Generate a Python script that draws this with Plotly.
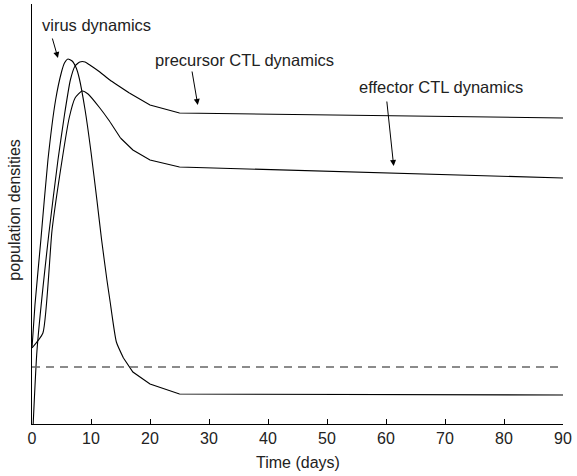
import plotly.graph_objects as go

# Data (time in days, population densities in arbitrary units)
virus_t = [0, 0.5, 1.5, 2.7, 4, 5, 5.5, 6.1, 6.8, 7.5, 8, 9, 10, 11, 11.8, 12.7, 13.2, 14.3, 15.5, 17.1, 20, 25, 90]
virus_v = [76, 119, 184, 264, 324, 352, 361, 365, 363, 356, 346, 314, 272, 224, 184, 144, 124, 82, 66, 52, 40, 30, 29]

prec_t = [0.2, 0.85, 2.85, 4.4, 5.5, 6.5, 7.3, 8.1, 9, 9.8, 11.5, 13.2, 16.5, 20, 25, 90]
prec_v = [0, 74, 190, 264, 309, 344, 358, 362, 362, 359, 352, 344, 331, 319, 311, 306]

eff_t = [0, 1.85, 3.4, 5.1, 6.3, 7.3, 8.5, 9.5, 11.5, 13, 15, 17.1, 20, 25, 90]
eff_v = [76, 91, 194, 264, 306, 326, 333, 330, 316, 304, 286, 274, 264, 257, 246]

threshold = 57
x_ticks = [0, 10, 20, 30, 40, 50, 60, 70, 80, 90]
SPLIT_T = 17  # smooth (spline) part before, straight segments after

FONT = "Liberation Sans, Arial, Helvetica, sans-serif"
TXT = "#222222"

fig = go.Figure()
for t, v in [(virus_t, virus_v), (prec_t, prec_v), (eff_t, eff_v)]:
    k = max(i for i, ti in enumerate(t) if ti <= SPLIT_T)
    fig.add_trace(go.Scatter(x=t[:k + 1], y=v[:k + 1], mode="lines",
                             line=dict(color="black", width=1.1, shape="spline", smoothing=0.5),
                             showlegend=False, hoverinfo="skip"))
    fig.add_trace(go.Scatter(x=t[k:], y=v[k:], mode="lines",
                             line=dict(color="black", width=1.1),
                             showlegend=False, hoverinfo="skip"))

fig.add_trace(go.Scatter(x=[0, 90], y=[threshold, threshold], mode="lines",
                         line=dict(color="#666666", width=1.3, dash="8px,6px"),
                         showlegend=False, hoverinfo="skip"))

fig.update_layout(
    width=577, height=476,
    margin=dict(l=32, r=14, t=4, b=52),
    paper_bgcolor="white", plot_bgcolor="white",
    font=dict(family=FONT, size=16.5, color=TXT),
    xaxis=dict(range=[0, 90], tickvals=x_ticks, ticks="inside", ticklen=5, tickcolor="black",
               showline=True, linecolor="black", linewidth=1, showgrid=False, zeroline=False,
               tickfont=dict(family=FONT, size=16, color=TXT)),
    yaxis=dict(range=[0, 420], showticklabels=False, ticks="", showline=True, linecolor="black",
               linewidth=1, showgrid=False, zeroline=False),
)

annotations = [
    dict(text="Time (days)", xref="paper", yref="paper", x=0.5, y=0, yshift=-38,
         showarrow=False, xanchor="center", yanchor="middle", font=dict(size=16)),
    dict(text="population densities", xref="paper", yref="paper", x=0, xshift=-17, y=0.508,
         showarrow=False, textangle=-90, xanchor="center", yanchor="middle", font=dict(size=16)),
    dict(text="virus dynamics", x=1.35, y=399, xanchor="left", yanchor="middle", showarrow=False),
    dict(text="precursor CTL dynamics", x=20.5, y=364, xanchor="left", yanchor="middle", showarrow=False),
    dict(text="effector CTL dynamics", x=55.0, y=337, xanchor="left", yanchor="middle", showarrow=False),
]
for hx, hy, ax, ay in [(4.4, 366, -6, -21), (28.1, 319, -6, -35), (61.3, 258, -7, -66)]:
    annotations.append(dict(text="", x=hx, y=hy, ax=ax, ay=ay, showarrow=True, arrowhead=2,
                            arrowsize=1.2, arrowwidth=1, arrowcolor="black", standoff=0))
fig.update_layout(annotations=annotations)

fig.write_html("out.html")
